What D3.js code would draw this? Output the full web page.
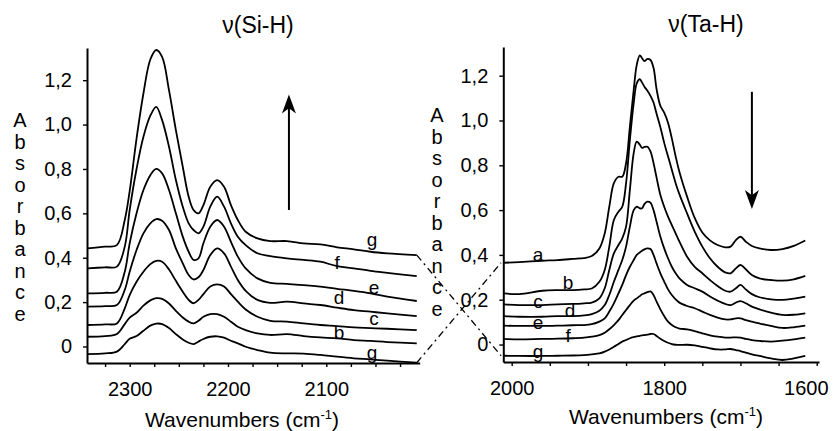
<!DOCTYPE html>
<html><head><meta charset="utf-8">
<script src="https://cdn.jsdelivr.net/npm/d3@7"></script>
<style>body{margin:0;background:#fff} svg{display:block}</style>
</head><body>
<svg id="chart" width="834" height="431"></svg>
<script>
// ---------- data: left panel, v(Si-H) ----------
const siWavenumbers = [2343, 2325, 2313, 2305, 2300, 2293, 2286, 2279, 2273, 2267, 2260, 2253, 2246, 2240, 2235, 2230, 2225, 2218, 2211, 2204, 2197, 2190, 2182, 2170, 2157, 2140, 2123, 2106, 2089, 2072, 2055, 2038, 2008];
const siA = [-0.034, -0.031, -0.023, 0.011, 0.035, 0.047, 0.071, 0.094, 0.103, 0.101, 0.083, 0.056, 0.032, 0.017, 0.011, 0.022, 0.034, 0.044, 0.046, 0.04, 0.026, 0.014, -0.001, -0.016, -0.028, -0.031, -0.032, -0.038, -0.046, -0.053, -0.058, -0.064, -0.073];
const siB = [0.044, 0.047, 0.056, 0.101, 0.13, 0.152, 0.184, 0.208, 0.218, 0.215, 0.194, 0.161, 0.131, 0.112, 0.104, 0.116, 0.134, 0.146, 0.146, 0.134, 0.112, 0.089, 0.074, 0.059, 0.052, 0.056, 0.047, 0.041, 0.037, 0.029, 0.025, 0.02, 0.014];
const siC = [0.097, 0.10, 0.104, 0.172, 0.232, 0.292, 0.337, 0.371, 0.386, 0.382, 0.347, 0.296, 0.247, 0.21, 0.195, 0.21, 0.236, 0.27, 0.28, 0.27, 0.236, 0.202, 0.167, 0.134, 0.116, 0.112, 0.104, 0.097, 0.092, 0.086, 0.083, 0.08, 0.074];
const siD = [0.18, 0.182, 0.187, 0.255, 0.337, 0.435, 0.51, 0.555, 0.574, 0.567, 0.525, 0.442, 0.375, 0.322, 0.302, 0.312, 0.345, 0.412, 0.442, 0.42, 0.36, 0.30, 0.251, 0.21, 0.197, 0.202, 0.194, 0.187, 0.175, 0.164, 0.157, 0.149, 0.137];
const siE = [0.239, 0.242, 0.247, 0.337, 0.465, 0.60, 0.705, 0.772, 0.80, 0.78, 0.705, 0.60, 0.495, 0.427, 0.39, 0.397, 0.465, 0.54, 0.57, 0.54, 0.472, 0.405, 0.352, 0.307, 0.287, 0.282, 0.277, 0.27, 0.26, 0.251, 0.24, 0.225, 0.205];
const siF = [0.352, 0.357, 0.36, 0.45, 0.615, 0.80, 0.945, 1.04, 1.08, 1.02, 0.90, 0.75, 0.63, 0.555, 0.525, 0.51, 0.54, 0.63, 0.675, 0.63, 0.555, 0.495, 0.457, 0.42, 0.407, 0.397, 0.39, 0.382, 0.362, 0.352, 0.341, 0.332, 0.317];
const siG = [0.442, 0.450, 0.457, 0.57, 0.70, 0.937, 1.14, 1.293, 1.336, 1.305, 1.155, 0.975, 0.81, 0.675, 0.615, 0.60, 0.637, 0.72, 0.75, 0.72, 0.637, 0.57, 0.517, 0.487, 0.475, 0.475, 0.465, 0.46, 0.447, 0.438, 0.427, 0.42, 0.412];

// ---------- data: right panel, v(Ta-H) ----------
const taWavenumbers = [2010, 1990, 1960, 1940, 1920, 1905, 1895, 1885, 1878, 1872, 1866, 1860, 1855, 1850, 1845, 1840, 1836, 1832, 1829, 1826, 1822, 1818, 1814, 1810, 1805, 1800, 1795, 1790, 1785, 1780, 1770, 1760, 1750, 1740, 1730, 1720, 1713, 1706, 1700, 1693, 1685, 1675, 1660, 1645, 1630, 1615];
const taA = [0.365, 0.368, 0.374, 0.377, 0.382, 0.386, 0.395, 0.429, 0.496, 0.615, 0.72, 0.749, 0.749, 0.809, 0.973, 1.136, 1.248, 1.291, 1.278, 1.265, 1.275, 1.27, 1.235, 1.14, 1.065, 1.035, 0.99, 0.92, 0.84, 0.77, 0.66, 0.565, 0.5, 0.465, 0.444, 0.434, 0.437, 0.466, 0.481, 0.459, 0.44, 0.429, 0.422, 0.426, 0.44, 0.464];
const taB = [0.228, 0.225, 0.24, 0.243, 0.243, 0.246, 0.25, 0.28, 0.333, 0.437, 0.556, 0.593, 0.615, 0.72, 0.913, 1.077, 1.166, 1.184, 1.169, 1.151, 1.133, 1.11, 1.08, 1.03, 0.97, 0.9, 0.84, 0.78, 0.72, 0.67, 0.585, 0.504, 0.437, 0.385, 0.347, 0.322, 0.318, 0.34, 0.355, 0.336, 0.31, 0.295, 0.288, 0.285, 0.291, 0.306];
const taC = [0.179, 0.176, 0.176, 0.179, 0.181, 0.184, 0.187, 0.206, 0.251, 0.333, 0.407, 0.444, 0.474, 0.526, 0.69, 0.854, 0.906, 0.892, 0.878, 0.882, 0.883, 0.862, 0.81, 0.745, 0.667, 0.615, 0.571, 0.533, 0.496, 0.459, 0.392, 0.347, 0.318, 0.288, 0.261, 0.24, 0.236, 0.251, 0.266, 0.246, 0.225, 0.211, 0.202, 0.199, 0.205, 0.214];
const taD = [0.127, 0.124, 0.124, 0.127, 0.127, 0.13, 0.136, 0.151, 0.176, 0.221, 0.28, 0.333, 0.377, 0.437, 0.526, 0.6, 0.615, 0.608, 0.608, 0.627, 0.638, 0.633, 0.6, 0.548, 0.481, 0.429, 0.385, 0.347, 0.318, 0.295, 0.266, 0.251, 0.236, 0.214, 0.196, 0.181, 0.176, 0.187, 0.194, 0.184, 0.169, 0.157, 0.142, 0.132, 0.133, 0.139];
const taE = [0.084, 0.083, 0.083, 0.084, 0.086, 0.087, 0.091, 0.102, 0.117, 0.147, 0.184, 0.228, 0.266, 0.31, 0.347, 0.377, 0.4, 0.411, 0.419, 0.425, 0.429, 0.426, 0.4, 0.362, 0.318, 0.281, 0.246, 0.221, 0.202, 0.187, 0.172, 0.162, 0.147, 0.132, 0.12, 0.112, 0.112, 0.117, 0.117, 0.109, 0.102, 0.094, 0.083, 0.074, 0.077, 0.084];
const taF = [0.025, 0.023, 0.025, 0.026, 0.028, 0.031, 0.035, 0.042, 0.053, 0.068, 0.087, 0.109, 0.132, 0.154, 0.176, 0.196, 0.206, 0.216, 0.224, 0.228, 0.234, 0.237, 0.221, 0.191, 0.157, 0.127, 0.102, 0.087, 0.077, 0.071, 0.068, 0.06, 0.05, 0.041, 0.035, 0.031, 0.031, 0.032, 0.031, 0.025, 0.02, 0.016, 0.013, 0.017, 0.023, 0.031];
const taG = [-0.05, -0.051, -0.051, -0.05, -0.049, -0.047, -0.044, -0.04, -0.032, -0.022, -0.01, 0.002, 0.013, 0.02, 0.028, 0.033, 0.036, 0.039, 0.041, 0.042, 0.044, 0.047, 0.047, 0.038, 0.026, 0.016, 0.008, 0.002, -0.001, -0.002, -0.001, -0.004, -0.01, -0.017, -0.022, -0.022, -0.02, -0.025, -0.029, -0.036, -0.044, -0.051, -0.062, -0.069, -0.062, -0.051];

// ---------- ticks & labels ----------
const yTicks = [0, 0.2, 0.4, 0.6, 0.8, 1.0, 1.2];
const siMajorTicks = [2300, 2200, 2100];
const siMinorTicks = [2325, 2300, 2275, 2250, 2225, 2200, 2175, 2150, 2125, 2100, 2075, 2050, 2025];
const taMajorTicks = [2000, 1800, 1600];
const taMinorTicks = [2000, 1950, 1900, 1850, 1800, 1750, 1700, 1650, 1600];
const siCurveLabels = ["g", "b", "c", "d", "e", "f", "g"];
const siLabelWN = [2053.5, 2087, 2051.5, 2087, 2051.5, 2089, 2053.5];
const siLabelAbs = [-0.025, 0.061, 0.128, 0.223, 0.268, 0.38, 0.48];
const taCurveLabels = ["a", "b", "c", "d", "e", "f", "g"];
const taLabelWN = [1965.5, 1926, 1965.5, 1923.5, 1965.5, 1926, 1965.5];
const taLabelAbs = [0.40, 0.279, 0.19, 0.154, 0.10, 0.042, -0.033];
const siTitle = "\u03bd(Si-H)";
const taTitle = "\u03bd(Ta-H)";
const yTitle = "Absorbance";

const svg = d3.select("#chart");
const font = "'Liberation Sans', Arial, Helvetica, sans-serif";
const W = +svg.attr("width");

function drawPanel(cfg) {
  const x = d3.scaleLinear().domain(cfg.xDomain).range(cfg.xRange);
  const y = d3.scaleLinear().domain(cfg.yDomain).range(cfg.yRange);
  const g = svg.append("g");

  const yAxis = d3.axisLeft(y).tickValues(yTicks).tickSize(4).tickSizeOuter(0).tickPadding(11)
    .tickFormat(d => d === 0 ? "0" : d3.format(".1f")(d).replace(".", ","));
  const ya = g.append("g").attr("transform", `translate(${cfg.xRange[0]},0)`).call(yAxis);

  const xAxis = d3.axisBottom(x).tickValues(cfg.minor).tickSize(4).tickSizeOuter(0).tickPadding(15)
    .tickFormat(d => cfg.major.includes(d) ? String(d) : "");
  const xa = g.append("g").attr("transform", `translate(0,${cfg.yRange[0]})`).call(xAxis);

  [ya, xa].forEach(a => {
    a.select(".domain").attr("stroke", "#000").attr("stroke-width", 2);
    a.selectAll(".tick line").attr("stroke", "#000").attr("stroke-width", 1.4);
    a.selectAll(".tick text").attr("font-family", font).attr("font-size", 20).attr("fill", "#000");
  });
  // keep tick labels inside the picture: shift any label that would cross the right edge
  xa.selectAll(".tick").each(function (d) {
    const t = d3.select(this).select("text");
    const bb = t.node().getBBox();
    const right = x(d) + bb.x + bb.width;
    if (right > W - 6) t.attr("dx", (W - 6 - right));
  });

  const line = d3.line()
    .x((d, i) => x(cfg.wn[i]))
    .y(d => y(d))
    .curve(d3.curveCatmullRom.alpha(0.5));
  g.append("g").selectAll("path").data(cfg.series).join("path")
    .attr("d", d => line(d))
    .attr("fill", "none").attr("stroke", "#000").attr("stroke-width", 1.8)
    .attr("stroke-linejoin", "round");

  // curve labels
  g.append("g").selectAll("text").data(cfg.labels).join("text")
    .attr("x", (d, i) => x(cfg.labelWN[i]))
    .attr("y", (d, i) => y(cfg.labelAbs[i]))
    .attr("text-anchor", "middle").attr("dominant-baseline", "central")
    .attr("font-family", font).attr("font-size", 19).attr("fill", "#000")
    .text(d => d);

  // arrow
  const ax = x(cfg.arrowWN), y0 = y(cfg.arrowFrom), y1 = y(cfg.arrowTo);
  const dir = y1 < y0 ? -1 : 1; // -1 up
  const headH = 19, headW = 7;
  g.append("line").attr("x1", ax).attr("x2", ax).attr("y1", y0).attr("y2", y1 - dir * headH * 0.7)
    .attr("stroke", "#000").attr("stroke-width", 2);
  g.append("path")
    .attr("d", `M${ax},${y1} L${ax - headW},${y1 - dir * headH} L${ax},${y1 - dir * headH * 0.72} L${ax + headW},${y1 - dir * headH} Z`)
    .attr("fill", "#000");

  // titles
  svg.append("text").attr("x", cfg.titleX).attr("y", cfg.titleY).attr("text-anchor", "middle")
    .attr("font-family", font).attr("font-size", 23).text(cfg.title);

  const xt = svg.append("text").attr("x", cfg.xTitleX).attr("y", cfg.xTitleY).attr("text-anchor", "middle")
    .attr("font-family", font).attr("font-size", 21);
  xt.append("tspan").text("Wavenumbers (cm");
  xt.append("tspan").attr("dy", -8).attr("font-size", 13).text("-1");
  xt.append("tspan").attr("dy", 8).text(")");

  svg.append("g").selectAll("text").data(yTitle.split("")).join("text")
    .attr("x", cfg.yTitleX).attr("y", (d, i) => cfg.yTitleY + i * 21.5)
    .attr("text-anchor", "middle").attr("dominant-baseline", "central")
    .attr("font-family", font).attr("font-size", 20).text(d => d);

  return { x, y };
}

const left = drawPanel({
  xDomain: [2343.4, 2005], xRange: [87, 419.7],
  yDomain: [-0.0743, 1.345], yRange: [363, 48],
  wn: siWavenumbers, series: [siA, siB, siC, siD, siE, siF, siG],
  major: siMajorTicks, minor: siMinorTicks,
  labels: siCurveLabels, labelWN: siLabelWN, labelAbs: siLabelAbs,
  arrowWN: 2138, arrowFrom: 0.615, arrowTo: 1.135,
  title: siTitle, titleX: 258, titleY: 32.5,
  xTitleX: 242, xTitleY: 426.5,
  yTitleX: 20, yTitleY: 120
});

const right = drawPanel({
  xDomain: [2011, 1597], xRange: [503.3, 819],
  yDomain: [-0.078, 1.328], yRange: [362, 47],
  wn: taWavenumbers, series: [taA, taB, taC, taD, taE, taF, taG],
  major: taMajorTicks, minor: taMinorTicks,
  labels: taCurveLabels, labelWN: taLabelWN, labelAbs: taLabelAbs,
  arrowWN: 1685, arrowFrom: 1.128, arrowTo: 0.605,
  title: taTitle, titleX: 706, titleY: 31.5,
  xTitleX: 666, xTitleY: 424,
  yTitleX: 437, yTitleY: 115
});

// dash-dot connectors between panels
const connectors = [
  [siWavenumbers[siWavenumbers.length - 1], siG[siG.length - 1], taWavenumbers[0], taG[0]],
  [siWavenumbers[siWavenumbers.length - 1], siA[siA.length - 1], taWavenumbers[0], taA[0]]
];
svg.append("g").selectAll("line").data(connectors).join("line")
  .attr("x1", d => left.x(d[0])).attr("y1", d => left.y(d[1]))
  .attr("x2", d => right.x(d[2]) - 3).attr("y2", d => right.y(d[3]))
  .attr("stroke", "#000").attr("stroke-width", 1.3)
  .attr("stroke-dasharray", "7,4,2,4");
</script>
</body></html>
